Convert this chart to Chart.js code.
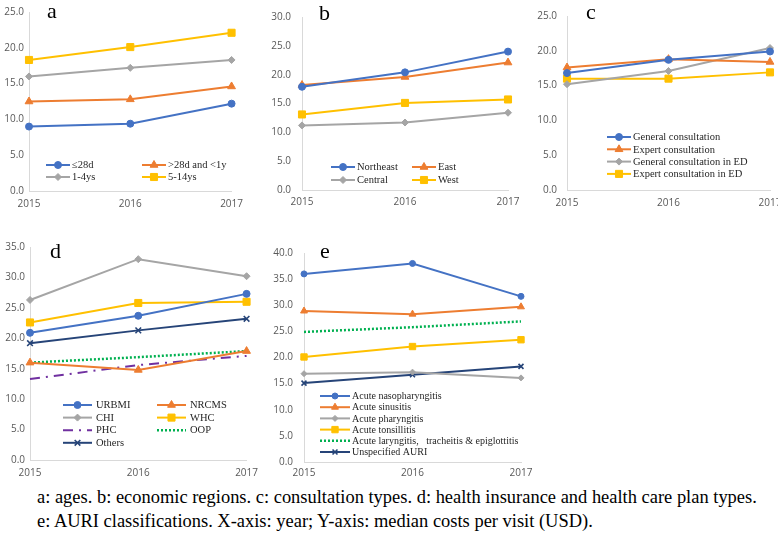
<!DOCTYPE html>
<html>
<head>
<meta charset="utf-8">
<script src="https://cdn.jsdelivr.net/npm/chart.js@4.4.0/dist/chart.umd.min.js"></script>
<style>
  body { margin: 0; width: 778px; height: 536px; background: #fff; position: relative; overflow: hidden; }
  .panel { position: absolute; }
  .tag { position: absolute; font-family: "Liberation Serif", serif; font-size: 22px; line-height: 22px; color: #000; }
  #caption { position: absolute; left: 37px; top: 485px; font-family: "Liberation Serif", serif; font-size: 18px; line-height: 24px; color: #000; white-space: nowrap; transform: scaleX(1.025); transform-origin: left top; }
</style>
</head>
<body>
<div class="panel" style="left:0;top:0;width:250px;height:215px"><canvas id="chartA"></canvas></div>
<div class="panel" style="left:262px;top:0;width:265px;height:215px"><canvas id="chartB"></canvas></div>
<div class="panel" style="left:530px;top:0;width:260px;height:215px"><canvas id="chartC"></canvas></div>
<div class="panel" style="left:0;top:220px;width:265px;height:260px"><canvas id="chartD"></canvas></div>
<div class="panel" style="left:262px;top:220px;width:280px;height:260px"><canvas id="chartE"></canvas></div>

<div class="tag" style="left:47px;top:0px">a</div>
<div class="tag" style="left:319px;top:2px">b</div>
<div class="tag" style="left:586px;top:1px">c</div>
<div class="tag" style="left:50px;top:240px">d</div>
<div class="tag" style="left:320px;top:240px">e</div>

<div id="caption">a: ages. b: economic regions. c: consultation types. d: health insurance and health care plan types.<br>e: AURI classifications. X-axis: year; Y-axis: median costs per visit (USD).</div>

<script>
const years = ["2015", "2016", "2017"];

// a: ages
const ageLabels = ["≤28d", ">28d and <1y", "1-4ys", "5-14ys"];
const age28d = [9.0, 9.4, 12.2];
const ageUnder1 = [12.5, 12.8, 14.6];
const age1to4 = [16.0, 17.2, 18.3];
const age5to14 = [18.3, 20.1, 22.1];

// b: economic regions
const regionLabels = ["Northeast", "East", "Central", "West"];
const northeast = [17.9, 20.4, 24.0];
const east = [18.2, 19.6, 22.1];
const central = [11.2, 11.7, 13.4];
const west = [13.1, 15.1, 15.7];

// c: consultation types
const consultLabels = ["General consultation", "Expert consultation", "General consultation in ED", "Expert consultation in ED"];
const generalConsult = [16.8, 18.7, 19.9];
const expertConsult = [17.6, 18.8, 18.4];
const generalED = [15.2, 17.1, 20.4];
const expertED = [16.0, 16.0, 16.9];

// d: insurance types
const insuranceLabels = ["URBMI", "NRCMS", "CHI", "WHC", "PHC", "OOP", "Others"];
const urbmi = [20.9, 23.7, 27.3];
const nrcms = [16.0, 14.8, 17.9];
const chi = [26.3, 33.0, 30.2];
const whc = [22.6, 25.8, 26.0];
const phc = [13.3, 15.6, 17.1];
const oop = [16.0, 16.9, 17.9];
const others = [19.2, 21.3, 23.2];

// e: AURI classifications
const auriLabels = ["Acute nasopharyngitis", "Acute sinusitis", "Acute pharyngitis", "Acute tonsillitis",
  "Acute laryngitis,   tracheitis & epiglottitis", "Unspecified AURI"];
const nasopharyngitis = [36.0, 38.0, 31.7];
const sinusitis = [28.9, 28.3, 29.7];
const pharyngitis = [16.9, 17.2, 16.1];
const tonsillitis = [20.1, 22.1, 23.4];
const laryngitis = [24.9, 25.8, 26.9];
const unspecified = [15.1, 16.7, 18.3];

const BLUE = "#4472C4", ORANGE = "#ED7D31", GRAY = "#A5A5A5", YELLOW = "#FFC000",
      NAVY = "#264478", GREEN = "#00B050", PURPLE = "#7030A0";

function series(label, data, color, style, radius, extra) {
  return Object.assign({
    label: label, data: data,
    borderColor: color, backgroundColor: color, borderWidth: 2,
    pointStyle: style, pointRadius: radius, pointBorderWidth: style === "crossRot" ? 1.6 : 1,
    tension: 0, clip: false
  }, extra || {});
}

// legend drawn inside the plot area, like the Excel original
const innerLegend = {
  id: "innerLegend",
  afterDraw(chart, args, opts) {
    if (!opts || !opts.x) return;
    const ctx = chart.ctx;
    ctx.save();
    ctx.font = opts.fontSize + "px 'Liberation Serif'";
    ctx.textBaseline = "middle";
    ctx.fillStyle = "#262626";
    chart.data.datasets.forEach((ds, i) => {
      const col = i % opts.cols, row = Math.floor(i / opts.cols);
      const x = opts.x + col * opts.colW;
      const y = opts.y + row * opts.rowH;
      ctx.save();
      ctx.strokeStyle = ds.borderColor;
      ctx.lineWidth = ds.borderWidth;
      ctx.setLineDash(ds.borderDash || []);
      ctx.beginPath();
      ctx.moveTo(x, y);
      ctx.lineTo(x + opts.lineLen, y);
      ctx.stroke();
      ctx.setLineDash([]);
      if (ds.pointRadius > 0) {
        ctx.fillStyle = ds.backgroundColor;
        ctx.strokeStyle = ds.borderColor;
        ctx.lineWidth = ds.pointBorderWidth;
        Chart.helpers.drawPoint(ctx, {pointStyle: ds.pointStyle, radius: ds.pointRadius, rotation: 0, borderWidth: ds.pointBorderWidth}, x + opts.lineLen / 2, y);
      }
      ctx.restore();
      ctx.fillText(ds.label, x + opts.lineLen + opts.gap, y + 0.5);
    });
    ctx.restore();
  }
};

const tickFont = {family: "'Open Sans'", size: 10};
const tickColor = "#595959";

function makeChart(id, datasets, yMax, box, legend) {
  return new Chart(document.getElementById(id), {
    type: "line",
    data: {labels: years, datasets: datasets},
    options: {
      responsive: true,
      maintainAspectRatio: false,
      animation: false,
      layout: {padding: {top: box.top, right: box.right, left: 0, bottom: 0}},
      plugins: {legend: {display: false}, tooltip: {enabled: false}, innerLegend: legend},
      scales: {
        x: {
          grid: {display: false, drawTicks: false},
          border: {color: "#D9D9D9", width: 1},
          ticks: {font: tickFont, color: tickColor, padding: box.xPad, maxRotation: 0},
          afterFit: s => { s.height = box.xh; }
        },
        y: {
          min: 0, max: yMax,
          grid: {display: false, drawTicks: false},
          border: {color: "#D9D9D9", width: 1},
          ticks: {stepSize: 5, font: tickFont, color: tickColor, padding: box.yPad, callback: v => v.toFixed(1)},
          afterFit: s => { s.width = box.yw; }
        }
      }
    },
    plugins: [innerLegend]
  });
}

makeChart("chartA", [
  series(ageLabels[0], age28d, BLUE, "circle", 3.5),
  series(ageLabels[1], ageUnder1, ORANGE, "triangle", 4.5),
  series(ageLabels[2], age1to4, GRAY, "rectRot", 3.5),
  series(ageLabels[3], age5to14, YELLOW, "rect", 5)
], 25, {top: 12, right: 17, xh: 24, yw: 29, xPad: 7, yPad: 5},
  {x: 46, y: 165, cols: 2, colW: 96, rowH: 12, lineLen: 24, gap: 2, fontSize: 10.5});

makeChart("chartB", [
  series(regionLabels[0], northeast, BLUE, "circle", 3.5),
  series(regionLabels[1], east, ORANGE, "triangle", 4.5),
  series(regionLabels[2], central, GRAY, "rectRot", 3.5),
  series(regionLabels[3], west, YELLOW, "rect", 5)
], 30, {top: 7, right: 19, xh: 25, yw: 40, xPad: 6, yPad: 11},
  {x: 69, y: 167, cols: 2, colW: 81, rowH: 13, lineLen: 24, gap: 2, fontSize: 10.5});

makeChart("chartC", [
  series(consultLabels[0], generalConsult, BLUE, "circle", 3.5),
  series(consultLabels[1], expertConsult, ORANGE, "triangle", 4.5),
  series(consultLabels[2], generalED, GRAY, "rectRot", 3.5),
  series(consultLabels[3], expertED, YELLOW, "rect", 5)
], 25, {top: 4, right: 20, xh: 25, yw: 37, xPad: 7, yPad: 10},
  {x: 77, y: 137, cols: 1, colW: 0, rowH: 12.3, lineLen: 24, gap: 2, fontSize: 10.5});

makeChart("chartD", [
  series(insuranceLabels[0], urbmi, BLUE, "circle", 3.5),
  series(insuranceLabels[1], nrcms, ORANGE, "triangle", 4.5),
  series(insuranceLabels[2], chi, GRAY, "rectRot", 3.5),
  series(insuranceLabels[3], whc, YELLOW, "rect", 5),
  series(insuranceLabels[4], phc, PURPLE, false, 0, {borderDash: [10, 6, 2, 6]}),
  series(insuranceLabels[5], oop, GREEN, false, 0, {borderDash: [2, 2], borderWidth: 2.5}),
  series(insuranceLabels[6], others, NAVY, "crossRot", 4)
], 35, {top: 27, right: 17, xh: 20, yw: 30, xPad: 7, yPad: 5},
  {x: 63, y: 185, cols: 2, colW: 94, rowH: 12.6, lineLen: 29, gap: 4, fontSize: 10.5});

makeChart("chartE", [
  series(auriLabels[0], nasopharyngitis, BLUE, "circle", 3),
  series(auriLabels[1], sinusitis, ORANGE, "triangle", 4),
  series(auriLabels[2], pharyngitis, GRAY, "rectRot", 3),
  series(auriLabels[3], tonsillitis, YELLOW, "rect", 4.5),
  series(auriLabels[4], laryngitis, GREEN, false, 0, {borderDash: [2, 2], borderWidth: 2.5}),
  series(auriLabels[5], unspecified, NAVY, "crossRot", 3.5)
], 40, {top: 33, right: 21, xh: 18, yw: 42, xPad: 5, yPad: 11},
  {x: 58, y: 176, cols: 1, colW: 0, rowH: 11.2, lineLen: 30, gap: 2, fontSize: 10});
</script>
</body>
</html>
